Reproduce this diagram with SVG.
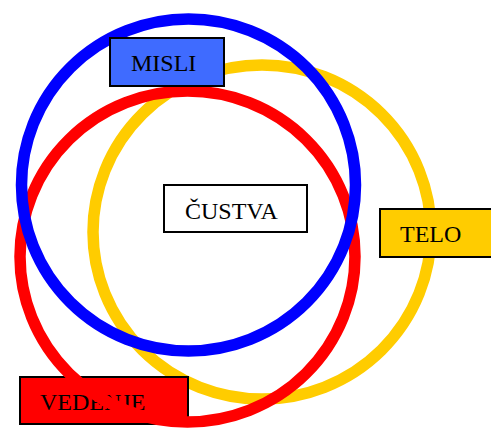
<svg xmlns="http://www.w3.org/2000/svg" width="491" height="429" viewBox="0 0 491 429">
  <style>
    .ring { fill: none; stroke-width: 11.5; }
    .box { stroke: #000; stroke-width: 2; }
    .lbl { font-family: "Liberation Serif", "Times New Roman", serif; font-size: 24px; fill: #000; }
  </style>
  <rect width="491" height="429" fill="#fff"/>

  <!-- yellow ring sits lowest -->
  <g id="ring-telo">
    <ellipse class="ring" cx="262" cy="232" rx="169" ry="167" stroke="#FFCC00"/>
  </g>

  <g id="vedenje">
    <rect class="box" x="20" y="377" width="168" height="47" fill="#FF0000"/>
    <text class="lbl" x="40" y="410">VEDENJE</text>
  </g>

  <!-- red ring is drawn across the VEDENJE label -->
  <g id="ring-vedenje">
    <ellipse class="ring" cx="187.5" cy="256.5" rx="167.5" ry="165.5" stroke="#FF0000"/>
  </g>

  <g id="ring-misli">
    <ellipse class="ring" cx="188.5" cy="185" rx="167" ry="166" stroke="#0000FF"/>
  </g>

  <g id="misli">
    <rect class="box" x="110" y="38" width="114" height="48" fill="#3F6BFF"/>
    <text class="lbl" x="131" y="71">MISLI</text>
  </g>

  <g id="telo">
    <rect class="box" x="380" y="209" width="120" height="48" fill="#FFCC00"/>
    <text class="lbl" x="400" y="242">TELO</text>
  </g>

  <g id="custva">
    <rect class="box" x="164" y="185" width="143" height="47" fill="#fff"/>
    <text class="lbl" x="185" y="219">ČUSTVA</text>
  </g>
</svg>
